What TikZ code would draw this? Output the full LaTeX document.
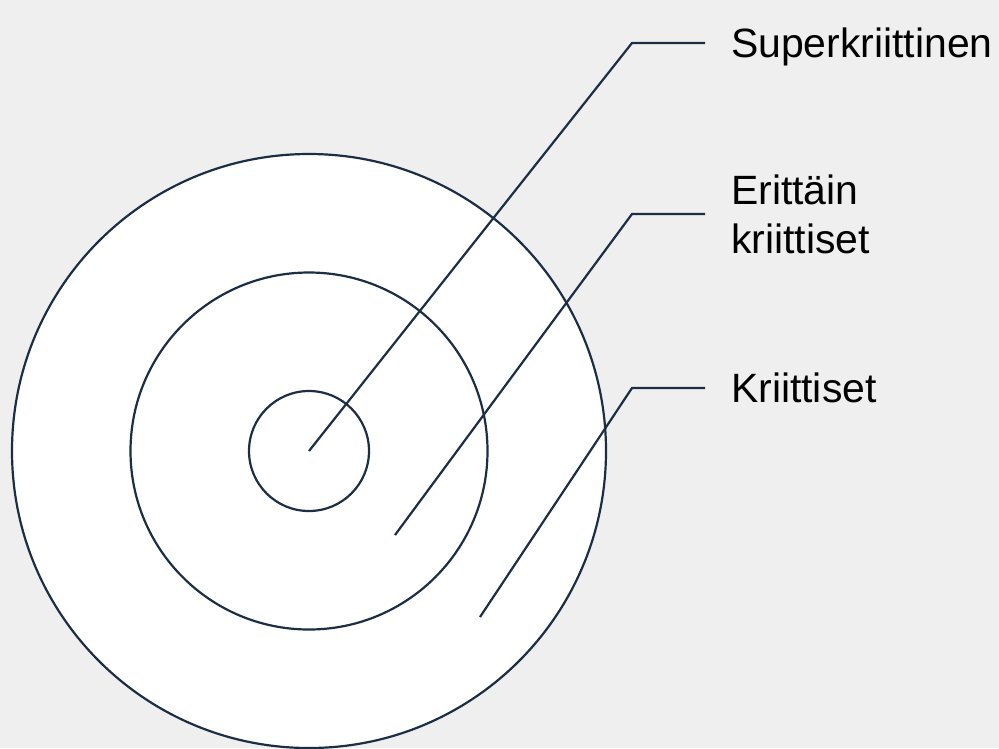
\documentclass[tikz,border=0pt]{standalone}
\usepackage{fontspec}
\setmainfont{Liberation Sans}
\definecolor{ink}{HTML}{1B2E44}
\definecolor{paper}{HTML}{EFEFEF}

\begin{document}
\begin{tikzpicture}[x=0.02cm, y=-0.02cm, line width=1.25pt,
    ring/.style={draw=ink, fill=white},
    leader/.style={draw=ink, line join=miter},
    tag/.style={anchor=west, inner xsep=0.5cm, inner ysep=0pt, text depth=0pt,
        align=left, font=\fontsize{23.3}{27.5}\selectfont}]
    \fill[paper] (0,0) rectangle (999,748);
    \useasboundingbox (0,0) rectangle (999,748);
    % rings
    \node[ring, circle, minimum size=594*0.02cm, inner sep=0pt] (outer) at (309,451) {};
    \node[ring, circle, minimum size=357*0.02cm, inner sep=0pt] (middle) at (309,451) {};
    \node[ring, circle, minimum size=120*0.02cm, inner sep=0pt] (inner) at (309,451) {};
    % labels
    \node[tag] (super) at (705,43) {Superkriittinen};
    \node[tag] (very) at (705,214) {Erittäin\\kriittiset};
    \node[tag] (crit) at (705,388) {Kriittiset};
    % leader lines
    \coordinate (p1) at (309,451);
    \coordinate (p2) at (395,535);
    \coordinate (p3) at (480,617);
    \coordinate (k1) at (632,43);
    \coordinate (k2) at (632,214);
    \coordinate (k3) at (632,388);
    \draw[leader] (p1) -- (k1) -- (super.west);
    \draw[leader] (p2) -- (k2) -- (very.west);
    \draw[leader] (p3) -- (k3) -- (crit.west);
\end{tikzpicture}
\end{document}
